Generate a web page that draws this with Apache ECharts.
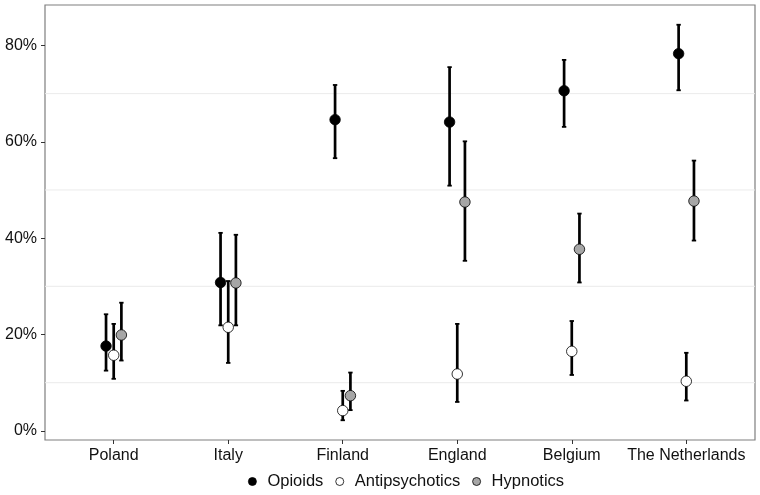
<!DOCTYPE html>
<html>
<head>
<meta charset="utf-8">
<script src="https://cdn.jsdelivr.net/npm/echarts@6/dist/echarts.min.js"></script>
<style>
  html, body { margin: 0; padding: 0; background: #fff; }
  #chart { width: 760px; height: 495px; }
</style>
</head>
<body>
<div id="chart"></div>
<script>
// countries on the x axis
var countries = ['Poland', 'Italy', 'Finland', 'England', 'Belgium', 'The Netherlands'];
var yTicks = [0, 20, 40, 60, 80];
var gridLines = [10, 30, 50, 70];

// point estimates and 95% CI (percent)
var opioids      = [17.6, 30.8, 64.6, 64.1, 70.6, 78.3];
var opioidsLow   = [12.5, 21.9, 56.6, 50.9, 63.1, 70.7];
var opioidsHigh  = [24.2, 41.1, 71.8, 75.5, 77.0, 84.3];

var antipsy      = [15.7, 21.5, 4.2, 11.8, 16.5, 10.3];
var antipsyLow   = [10.8, 14.1, 2.2, 6.0, 11.6, 6.3];
var antipsyHigh  = [22.2, 31.1, 8.3, 22.2, 22.8, 16.2];

var hypnotics     = [19.9, 30.7, 7.3, 47.5, 37.7, 47.7];
var hypnoticsLow  = [14.6, 21.9, 4.3, 35.3, 30.8, 39.5];
var hypnoticsHigh = [26.6, 40.7, 12.1, 60.1, 45.1, 56.1];

var groups = [
    {name: 'Opioids', vals: opioids, low: opioidsLow, high: opioidsHigh, fill: '#000000', dodge: -0.067},
    {name: 'Antipsychotics', vals: antipsy, low: antipsyLow, high: antipsyHigh, fill: '#ffffff', dodge: 0},
    {name: 'Hypnotics', vals: hypnotics, low: hypnoticsLow, high: hypnoticsHigh, fill: '#a6a6a6', dodge: 0.067}
];

var font = 'Liberation Sans, Arial, sans-serif';
var chart = echarts.init(document.getElementById('chart'), null, {renderer: 'canvas'});

var series = [];
// light grid lines at odd tens, under everything
series.push({
    type: 'custom',
    silent: true,
    z: 0,
    data: gridLines.map(function (v) { return [v]; }),
    renderItem: function (params, api) {
        var cs = params.coordSys;
        var y = api.coord([0, api.value(0)])[1];
        return {
            type: 'line',
            shape: {x1: cs.x, y1: y, x2: cs.x + cs.width, y2: y},
            style: {stroke: '#ebebeb', lineWidth: 1}
        };
    },
    encode: {y: 0}
});
//误差线
groups.forEach(function (g) {
    series.push({
        type: 'custom',
        silent: true,
        z: 2,
        data: g.vals.map(function (v, i) { return [i + g.dodge, g.low[i], g.high[i]]; }),
        renderItem: function (params, api) {
            var lo = api.coord([api.value(0), api.value(1)]);
            var hi = api.coord([api.value(0), api.value(2)]);
            var st = {stroke: '#000', lineWidth: 2.7};
            var cap = {stroke: '#000', lineWidth: 1.8};
            return {
                type: 'group',
                children: [
                    {type: 'line', shape: {x1: lo[0], y1: lo[1], x2: hi[0], y2: hi[1]}, style: st},
                    {type: 'line', shape: {x1: lo[0] - 2.2, y1: lo[1], x2: lo[0] + 2.2, y2: lo[1]}, style: cap},
                    {type: 'line', shape: {x1: hi[0] - 2.2, y1: hi[1], x2: hi[0] + 2.2, y2: hi[1]}, style: cap}
                ]
            };
        }
    });
});
//点
groups.forEach(function (g) {
    series.push({
        name: g.name,
        type: 'scatter',
        z: 3,
        symbol: 'circle',
        symbolSize: 10.5,
        itemStyle: {color: g.fill, borderColor: '#000', borderWidth: 0.8, opacity: 1},
        data: g.vals.map(function (v, i) { return [i + g.dodge, v]; })
    });
});

chart.setOption({
    animation: false,
    backgroundColor: '#fff',
    grid: {left: 45, right: 5, top: 5, bottom: 55, show: true, borderColor: '#7f7f7f', borderWidth: 1.2, backgroundColor: 'transparent'},
    legend: {
        bottom: 0,
        left: 243,
        itemWidth: 8,
        itemHeight: 8,
        itemGap: 12,
        textStyle: {fontFamily: font, fontSize: 16.5, color: '#111', padding: [0, 0, 0, 6]},
        data: groups.map(function (g) { return {name: g.name, icon: 'circle', itemStyle: {borderColor: '#000', borderWidth: 0.8}}; })
    },
    xAxis: {
        type: 'value',
        min: -0.6,
        max: 5.6,
        splitLine: {show: false},
        axisLine: {show: false, onZero: false},
        axisTick: {show: true, length: 4, lineStyle: {color: '#333'}, customValues: [0, 1, 2, 3, 4, 5]},
        axisLabel: {
            customValues: [0, 1, 2, 3, 4, 5],
            formatter: function (v) { return countries[Math.round(v)]; },
            fontFamily: font, fontSize: 16, color: '#111', margin: 8
        }
    },
    yAxis: {
        type: 'value',
        min: -1.9,
        max: 88.4,
        splitLine: {show: false},
        axisLine: {show: false, onZero: false},
        axisTick: {show: true, length: 4, lineStyle: {color: '#333'}, customValues: yTicks},
        axisLabel: {
            customValues: yTicks,
            formatter: function (v) { return v + '%'; },
            fontFamily: font, fontSize: 16, color: '#111', margin: 8
        }
    },
    series: series
});
</script>
</body>
</html>
